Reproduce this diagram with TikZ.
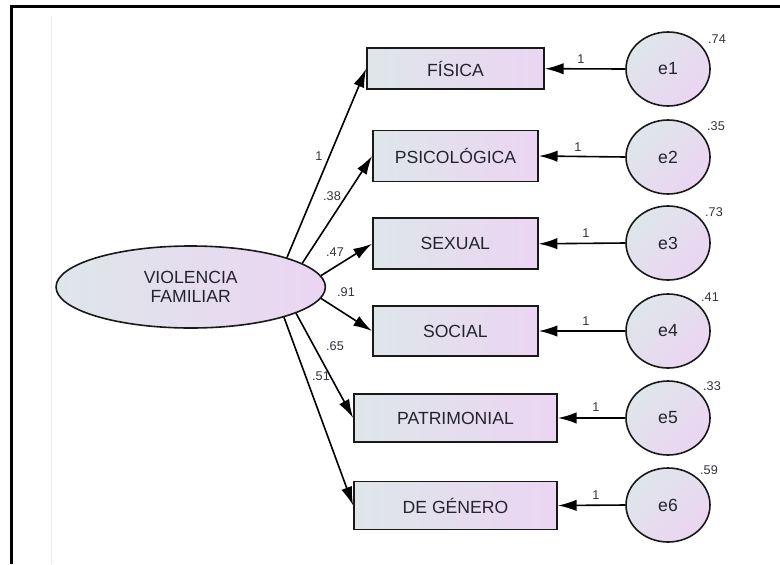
\documentclass[tikz,border=0pt]{standalone}
\usepackage{fontspec}
\setmainfont{Liberation Sans}
\usetikzlibrary{arrows.meta,shapes.geometric}
\definecolor{fillL}{HTML}{DEE6EA}
\definecolor{fillR}{HTML}{EBD5F2}
\definecolor{txt}{HTML}{24242F}
\definecolor{numtxt}{HTML}{33333F}

\begin{document}
\begin{tikzpicture}[x=0.75pt, y=-0.75pt,
  every node/.style = {text=txt, font=\fontsize{13.2}{14.5}\selectfont},
  obs/.style = {shape=rectangle, draw=black!90, line width=1.3pt,
    left color=fillL, right color=fillR, inner sep=0pt},
  latent/.style = {shape=ellipse, draw=black!90, line width=1.2pt,
    left color=fillL, right color=fillR, align=center, inner sep=0pt,
    minimum width=202pt, minimum height=61.5pt},
  err/.style = {shape=ellipse, draw=black!90, line width=1.2pt,
    top color=fillL, bottom color=fillR, shading angle=45, inner sep=0pt,
    minimum width=63pt, minimum height=55.5pt},
  coef/.style = {font=\fontsize{9.5}{11}\selectfont, text=numtxt, inner sep=0pt},
  arr/.style = {line width=1.2pt, -{Latex[length=14pt,width=8.5pt]}}]
  \useasboundingbox (0,0) rectangle (780,564);
  % frame
  \draw[line width=1.6pt] (11.5,564) -- (11.5,6.5) -- (780,6.5);
  \draw[black!8, line width=0.75pt] (51.5,16) -- (51.5,564);

  \node[latent] (vf) at (190.7,287) {VIOLENCIA\\ FAMILIAR};
  \node[obs, minimum width=132.75pt, minimum height=30.75pt] (fis) at (455.5,68.7) {FÍSICA};
  \node[obs, minimum width=123.75pt, minimum height=38.25pt] (psi) at (455.5,156) {PSICOLÓGICA};
  \node[obs, minimum width=123.75pt, minimum height=38.25pt] (sex) at (455.3,243.8) {SEXUAL};
  \node[obs, minimum width=123.75pt, minimum height=37.5pt] (soc) at (455.3,331) {SOCIAL};
  \node[obs, minimum width=152.25pt, minimum height=36pt] (pat) at (455.5,418) {PATRIMONIAL};
  \node[obs, minimum width=152.25pt, minimum height=36pt] (gen) at (455.5,505.5) {DE GÉNERO};

  \node[err] (e1) at (668,69) {e1};
  \node[err] (e2) at (668,157) {e2};
  \node[err] (e3) at (668,243) {e3};
  \node[err] (e4) at (668,331) {e4};
  \node[err] (e5) at (668,418) {e5};
  \node[err] (e6) at (668,505) {e6};

  \draw[arr] (vf.17) -- (fis.west);
  \draw[arr] (vf.12) -- (psi.west);
  \draw[arr] (vf.5) -- (sex.west);
  \draw[arr] (vf.-5) -- (soc.west);
  \draw[arr] (vf.-14) -- (pat.west);
  \draw[arr] (vf.-18) -- (gen.west);

  \draw[arr] (e1.west) -- (fis.east);
  \draw[arr] (e2.west) -- (psi.east);
  \draw[arr] (e3.west) -- (sex.east);
  \draw[arr] (e4.west) -- (soc.east);
  \draw[arr] (e5.west) -- (pat.east);
  \draw[arr] (e6.west) -- (gen.east);

  % loadings
  \node[coef] (l1) at (319,156) {1};
  \node[coef] (l2) at (332,196) {.38};
  \node[coef] (l3) at (335,252) {.47};
  \node[coef] (l4) at (346,292) {.91};
  \node[coef] (l5) at (335,346) {.65};
  \node[coef] (l6) at (321,376) {.51};

  % error weights
  \node[coef] (w1) at (581,59) {1};
  \node[coef] (w2) at (578,147) {1};
  \node[coef] (w3) at (586,233) {1};
  \node[coef] (w4) at (586,321) {1};
  \node[coef] (w5) at (596,407) {1};
  \node[coef] (w6) at (596,495) {1};

  % variances
  \node[coef] (v1) at (717,39) {.74};
  \node[coef] (v2) at (716,126) {.35};
  \node[coef] (v3) at (714,212) {.73};
  \node[coef] (v4) at (710,297) {.41};
  \node[coef] (v5) at (712,386) {.33};
  \node[coef] (v6) at (709,470) {.59};
\end{tikzpicture}
\end{document}
